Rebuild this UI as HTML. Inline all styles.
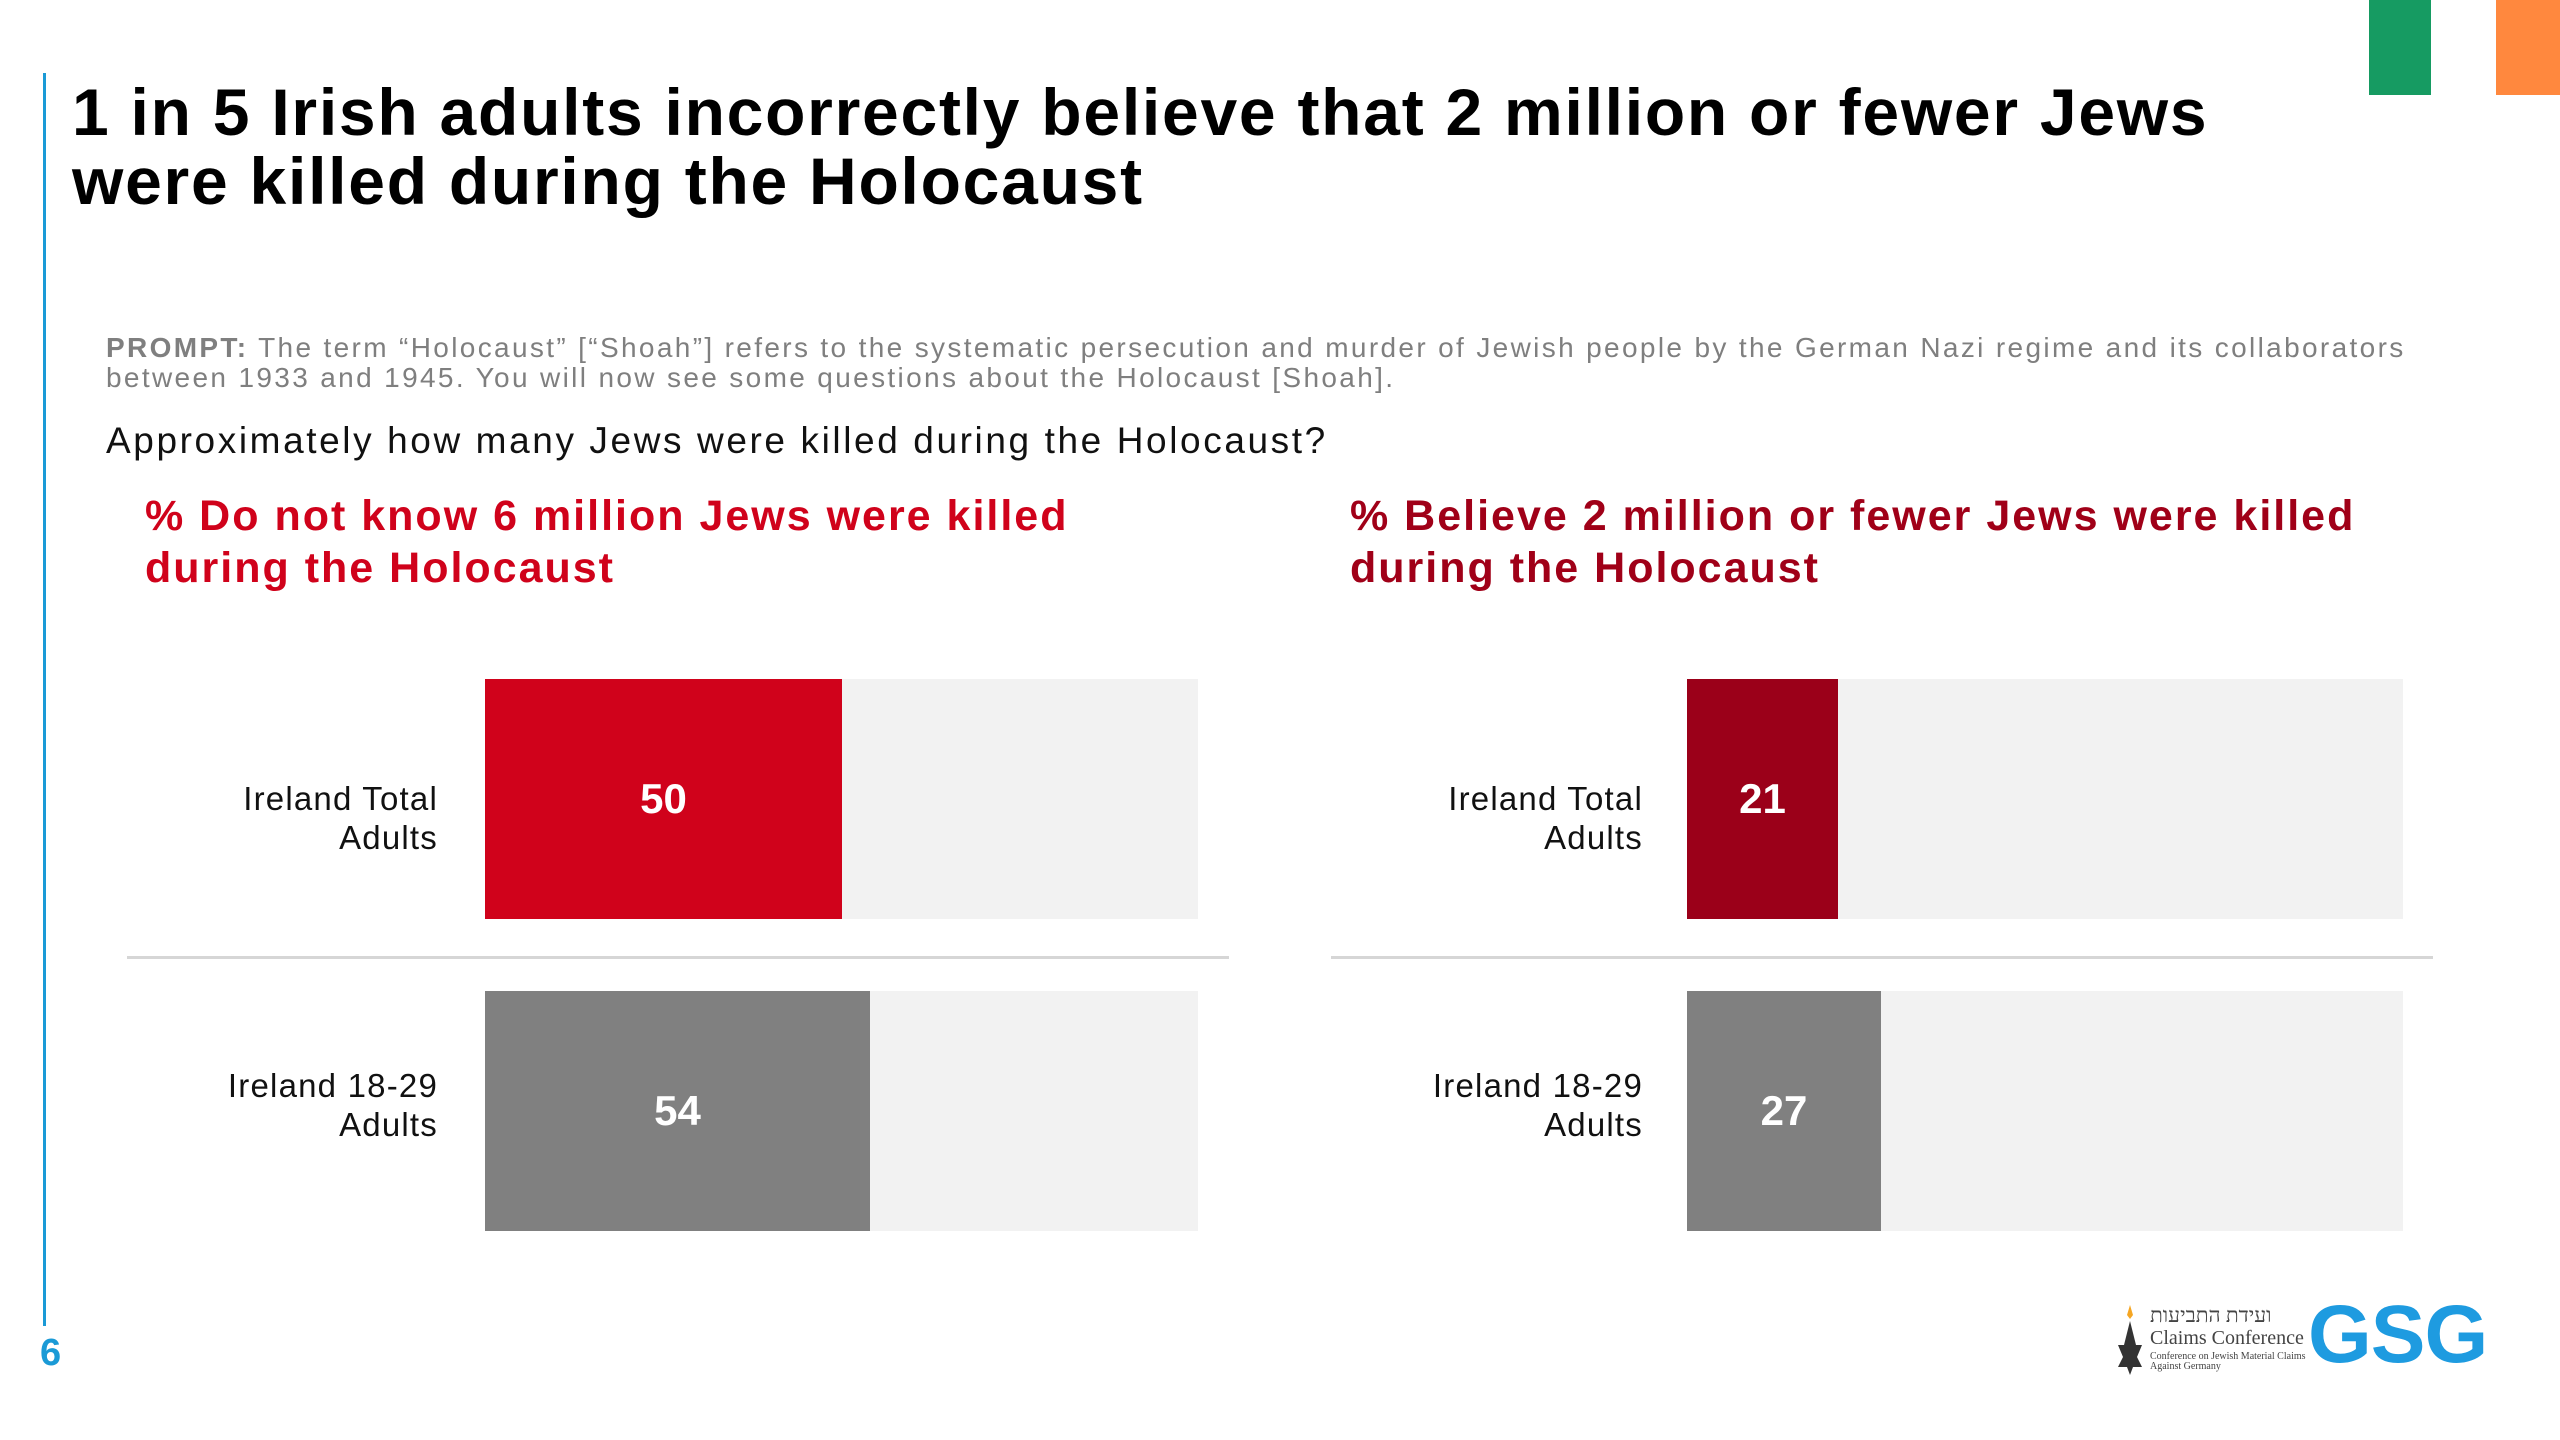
<!DOCTYPE html>
<html><head><meta charset="utf-8"><style>
*{margin:0;padding:0;box-sizing:border-box}
body{width:2560px;height:1440px;background:#fff;position:relative;overflow:hidden;font-family:"Liberation Sans",sans-serif}
.a{position:absolute}
.t{left:72px;top:78px;font-size:66px;font-weight:bold;line-height:69px;color:#000;letter-spacing:1.75px;white-space:nowrap}
.p{left:106px;top:333px;font-size:28px;line-height:30px;color:#7f7f7f;letter-spacing:2.35px;white-space:nowrap}
.q{left:106px;top:420px;font-size:37px;color:#111;letter-spacing:2.6px}
.h{font-size:43px;font-weight:bold;line-height:52px;letter-spacing:2px;white-space:nowrap}
.bg{background:#f2f2f2}
.v{color:#fff;font-weight:bold;font-size:42px;display:flex;align-items:center;justify-content:center}
.l{font-size:33px;line-height:39px;text-align:right;color:#111;width:320px;letter-spacing:1.2px}
.sep{height:3px;background:#d6d6d6}
</style></head><body>
<div class="a" style="left:43px;top:73px;width:3px;height:1253px;background:#1a9ad6"></div>
<div class="a" style="left:2369px;top:0;width:62px;height:95px;background:#169b62"></div>
<div class="a" style="left:2496px;top:0;width:64px;height:95px;background:#ff883e"></div>
<div class="a t">1 in 5 Irish adults incorrectly believe that 2 million or fewer Jews<br>were killed during the Holocaust</div>
<div class="a p"><b>PROMPT:</b> The term “Holocaust” [“Shoah”] refers to the systematic persecution and murder of Jewish people by the German Nazi regime and its collaborators<br>between 1933 and 1945. You will now see some questions about the Holocaust [Shoah].</div>
<div class="a q">Approximately how many Jews were killed during the Holocaust?</div>
<div class="a h" style="left:145px;top:490px;color:#d0021b">% Do not know 6 million Jews were killed<br>during the Holocaust</div>
<div class="a h" style="left:1350px;top:490px;color:#a00018">% Believe 2 million or fewer Jews were killed<br>during the Holocaust</div>

<div class="a bg" style="left:485px;top:679px;width:713px;height:240px"></div>
<div class="a v" style="left:485px;top:679px;width:357px;height:240px;background:#d0021b">50</div>
<div class="a bg" style="left:485px;top:991px;width:713px;height:240px"></div>
<div class="a v" style="left:485px;top:991px;width:385px;height:240px;background:#808080">54</div>
<div class="a sep" style="left:127px;top:956px;width:1102px"></div>
<div class="a l" style="left:118px;top:779px">Ireland Total<br>Adults</div>
<div class="a l" style="left:118px;top:1066px">Ireland 18-29<br>Adults</div>

<div class="a bg" style="left:1687px;top:679px;width:716px;height:240px"></div>
<div class="a v" style="left:1687px;top:679px;width:151px;height:240px;background:#9b0019">21</div>
<div class="a bg" style="left:1687px;top:991px;width:716px;height:240px"></div>
<div class="a v" style="left:1687px;top:991px;width:194px;height:240px;background:#808080">27</div>
<div class="a sep" style="left:1331px;top:956px;width:1102px"></div>
<div class="a l" style="left:1323px;top:779px">Ireland Total<br>Adults</div>
<div class="a l" style="left:1323px;top:1066px">Ireland 18-29<br>Adults</div>

<div class="a" style="left:40px;top:1332px;font-size:38px;font-weight:bold;color:#1a9ad6">6</div>
<div class="a" style="left:2118px;top:1305px;width:24px;height:70px">
<svg width="24" height="70"><path d="M12 0 L15 10 L12 14 L9 10Z" fill="#f5a623"/><path d="M12 16 L18 40 L24 40 L19 52 L24 62 L15 62 L12 70 L9 62 L0 62 L5 52 L0 40 L6 40Z" fill="#333"/></svg></div>
<div class="a" style="left:2150px;top:1305px;font-family:'Liberation Serif','Noto Serif CJK SC',serif;color:#444;line-height:1">
<div style="font-size:21px">ועידת התביעות</div>
<div style="font-size:20px;margin-top:2px">Claims Conference</div>
<div style="font-size:10px;margin-top:4px">Conference on Jewish Material Claims<br>Against Germany</div></div>
<div class="a" style="left:2308px;top:1288px;font-size:82px;font-weight:900;color:#1e9be0;letter-spacing:-1px;font-family:'Liberation Sans',sans-serif">GSG</div>
</body></html>
